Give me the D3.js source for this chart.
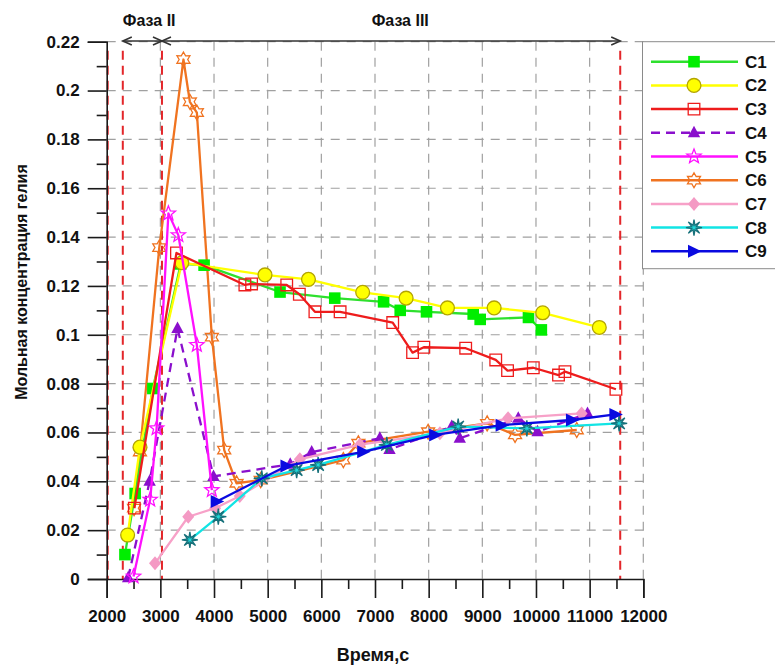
<!DOCTYPE html>
<html>
<head>
<meta charset="utf-8">
<script src="https://cdn.jsdelivr.net/npm/d3@7"></script>
<style>
  html, body { margin: 0; padding: 0; background: #fff; }
  svg { display: block; font-family: "Liberation Sans", Arial, sans-serif; }
</style>
</head>
<body>
<svg id="chart" width="775" height="666"></svg>
<script>
// Axis ticks
const timeTicks = [2000, 3000, 4000, 5000, 6000, 7000, 8000, 9000, 10000, 11000, 12000];
const concTicks = [0, 0.02, 0.04, 0.06, 0.08, 0.1, 0.12, 0.14, 0.16, 0.18, 0.2, 0.22];

// Phase boundaries (time, s) and labels
const phaseBounds = [2000, 2300, 3030, 11570];
const phaseLabels = ["Фаза II", "Фаза III"];

// Series: [time, s ; molar helium concentration]
const seriesNames = ["C1", "C2", "C3", "C4", "C5", "C6", "C7", "C8", "C9"];
const c1 = [[2340,0.010],[2530,0.035],[2860,0.078],[3380,0.129],[3815,0.1285],[5230,0.1175],[6250,0.115],
            [7160,0.1135],[7470,0.110],[7960,0.1094],[8830,0.1085],[8960,0.1063],[9860,0.1071],[10100,0.102]];
const c2 = [[2390,0.018],[2620,0.054],[3400,0.1295],[4950,0.1245],[5760,0.1227],[6770,0.1174],[7580,0.115],
            [8350,0.111],[9220,0.111],[10125,0.109],[11180,0.103]];
const c3 = [[2515,0.029],[3300,0.1335],[4575,0.1204],[4700,0.1208],[5355,0.1204],[5590,0.1166],[5880,0.1094],
            [6350,0.1094],[7330,0.105],[7700,0.0927],[7910,0.0949],[8690,0.0945],[9250,0.0897],[9470,0.0853],
            [9950,0.0865],[10420,0.0835],[10540,0.0849],[11490,0.0777]];
const c4 = [[2400,0.0005],[2800,0.040],[3320,0.1026],[3990,0.042],[5420,0.047],[5820,0.052],[7090,0.0576],
            [7270,0.053],[8430,0.0624],[8580,0.0576],[9670,0.0658],[10030,0.0603],[10960,0.0678]];
const c5 = [[2500,0.001],[2810,0.0325],[2930,0.0617],[3150,0.1497],[3335,0.1408],[3680,0.0958],[3960,0.0364]];
const c6 = [[2510,0.029],[2620,0.052],[2980,0.1357],[3430,0.2127],[3550,0.1954],[3680,0.191],[3960,0.099],
            [4190,0.0528],[4420,0.0392],[4870,0.0405],[6410,0.0487],[6690,0.0556],[7990,0.0603],[9090,0.0637],
            [9610,0.059],[10760,0.061]];
const c7 = [[2900,0.0064],[3520,0.0255],[4020,0.029],[4480,0.034],[5600,0.049],[6720,0.055],[8210,0.0597],
            [9480,0.0658],[10850,0.0678]];
const c8 = [[3550,0.016],[4080,0.0255],[4890,0.0412],[5540,0.0446],[5940,0.0467],[7220,0.0549],[8550,0.0624],
            [9830,0.0617],[11550,0.0637]];
const c9 = [[4050,0.0317],[5350,0.0463],[6780,0.0521],[8120,0.059],[9360,0.063],[10670,0.0651],[11480,0.0674]];
const seriesData = [c1, c2, c3, c4, c5, c6, c7, c8, c9];

// Styles per series
const styles = [
  { line: "#2ee02e", marker: "square",   fill: "#00ee00", stroke: "none" },
  { line: "#ffff00", marker: "circle",   fill: "#ffff00", stroke: "#b3a400" },
  { line: "#ee1c1c", marker: "square",   fill: "none",    stroke: "#ee1c1c" },
  { line: "#8a0fcc", marker: "triangle", fill: "#8a0fcc", stroke: "none", dash: "9,6" },
  { line: "#ff10ff", marker: "star5",    fill: "none",    stroke: "#ff10ff" },
  { line: "#f07320", marker: "star6",    fill: "none",    stroke: "#f07320" },
  { line: "#f7a1c8", marker: "diamond",  fill: "#f49ac4", stroke: "none" },
  { line: "#12e4e4", marker: "burst",    fill: "#20d8d8", stroke: "#17707a" },
  { line: "#0a0ae0", marker: "tri-right",fill: "#0a0ae0", stroke: "none" }
];

function starPath(points, R, r, rot) {
  const pts = [];
  for (let i = 0; i < points * 2; i++) {
    const a = rot + i * Math.PI / points;
    const rad = i % 2 === 0 ? R : r;
    pts.push([rad * Math.sin(a), -rad * Math.cos(a)]);
  }
  return "M" + pts.map(p => p[0].toFixed(2) + "," + p[1].toFixed(2)).join("L") + "Z";
}

function markerPath(kind) {
  switch (kind) {
    case "square": return "M-5.8,-5.8H5.8V5.8H-5.8Z";
    case "circle": return d3.symbol(d3.symbolCircle, 150)();
    case "triangle": return "M0,-7L6.2,4.5L-6.2,4.5Z";
    case "star5": return starPath(5, 7.5, 3.2, 0);
    case "star6": return starPath(6, 7.5, 4.3, 0);
    case "diamond": return "M0,-7L6,0L0,7L-6,0Z";
    case "burst": return starPath(8, 8, 2.4, 0);
    case "tri-right": return "M-6,-6.5L7.5,0L-6,6.5Z";
  }
}

const svg = d3.select("#chart");
const x = d3.scaleLinear().domain([2000, 12000]).range([106.7, 643.3]);
const y = d3.scaleLinear().domain([0, 0.22]).range([579, 41.7]);
const [x0, x1] = x.range();
const [y0, y1] = y.range();

// Grid
const grid = svg.append("g").attr("stroke", "#a0a0a0").attr("stroke-width", 1.2).attr("stroke-dasharray", "9,7");
grid.selectAll(".gx").data(timeTicks.filter(t => t > 2000)).join("line")
  .attr("x1", d => x(d)).attr("x2", d => x(d)).attr("y1", y1).attr("y2", y0);
grid.selectAll(".gy").data(concTicks.filter(t => t > 0)).join("line")
  .attr("x1", x0).attr("x2", x1).attr("y1", d => y(d)).attr("y2", d => y(d));

// Phase boundaries
svg.append("g").attr("stroke", "#e3262a").attr("stroke-width", 2).attr("stroke-dasharray", "9,6")
  .selectAll("line").data(phaseBounds).join("line")
  .attr("x1", d => x(d) + (d === 2000 ? 1 : 0)).attr("x2", d => x(d) + (d === 2000 ? 1 : 0))
  .attr("y1", y1 + 9).attr("y2", y0);

// Axes
const fmtConc = d => d === 0 ? "0" : String(+d.toFixed(2));
const minorT = d3.range(2500, 12000, 1000);
const minorC = d3.range(1, 22, 2).map(i => +(i * 0.01).toFixed(2));

svg.append("g").attr("transform", `translate(0,${y0})`)
  .call(d3.axisBottom(x).tickValues(timeTicks).tickSize(19).tickPadding(12).tickFormat(d3.format("d")));
svg.append("g").attr("transform", `translate(0,${y0})`)
  .call(d3.axisBottom(x).tickValues(minorT).tickSize(10).tickFormat(""))
  .select(".domain").remove();
svg.append("g").attr("transform", `translate(${x0},0)`)
  .call(d3.axisLeft(y).tickValues(concTicks).tickSize(19).tickPadding(8).tickFormat(fmtConc));
svg.append("g").attr("transform", `translate(${x0},0)`)
  .call(d3.axisLeft(y).tickValues(minorC).tickSize(10).tickFormat(""))
  .select(".domain").remove();
svg.selectAll(".domain, .tick line").attr("stroke", "#1a1a1a").attr("stroke-width", 1.6);
svg.selectAll(".tick text").attr("font-size", 17).attr("font-weight", "bold").attr("fill", "#111")
  .attr("font-family", "'Liberation Sans', Arial, sans-serif");

// Axis titles
svg.append("text").attr("x", 373).attr("y", 661).attr("text-anchor", "middle")
  .attr("font-size", 18).attr("font-weight", "bold").attr("fill", "#111").text("Время,с");
svg.append("text").attr("transform", "translate(27,282) rotate(-90)").attr("text-anchor", "middle")
  .attr("font-size", 16).attr("font-weight", "bold").attr("fill", "#111").text("Мольная концентрация гелия");

// Phase arrows
const ay = 41;
const arrows = svg.append("g").attr("stroke", "#333").attr("stroke-width", 1.6).attr("fill", "none");
arrows.append("line").attr("x1", x(phaseBounds[1])).attr("x2", x(phaseBounds[3])).attr("y1", ay).attr("y2", ay);
function chevron(px, dir) {
  arrows.append("path").attr("d", `M${px - dir * 9},${ay - 4}L${px},${ay}L${px - dir * 9},${ay + 4}`);
}
chevron(x(phaseBounds[1]), -1);
chevron(x(phaseBounds[2]), 1);
chevron(x(phaseBounds[2]), -1);
chevron(x(phaseBounds[3]), 1);
svg.append("text").attr("x", x(phaseBounds[1])).attr("y", 26).attr("font-size", 16).attr("font-weight", "bold")
  .attr("fill", "#111").text(phaseLabels[0]);
svg.append("text").attr("x", x(7470)).attr("y", 26).attr("text-anchor", "middle").attr("font-size", 16)
  .attr("font-weight", "bold").attr("fill", "#111").text(phaseLabels[1]);

// Series
const line = d3.line().x(d => x(d[0])).y(d => y(d[1]));
const order = [5, 0, 1, 2, 3, 4, 6, 7, 8];
order.forEach(i => {
  const s = styles[i];
  const g = svg.append("g");
  g.append("path").datum(seriesData[i]).attr("d", line).attr("fill", "none")
    .attr("stroke", s.line).attr("stroke-width", 2.3).attr("stroke-dasharray", s.dash || null)
    .attr("stroke-linejoin", "round");
  g.selectAll("path.m").data(seriesData[i]).join("path").attr("class", "m")
    .attr("d", markerPath(s.marker))
    .attr("transform", d => `translate(${x(d[0])},${y(d[1])})`)
    .attr("fill", s.fill).attr("stroke", s.stroke).attr("stroke-width", s.stroke === "none" ? 0 : 1.3);
});

// Legend
const lg = svg.append("g");
lg.append("rect").attr("x", 642.5).attr("y", 41.7).attr("width", 140).attr("height", 227)
  .attr("fill", "#fff").attr("stroke", "#8a8a8a").attr("stroke-width", 1);
seriesNames.forEach((name, i) => {
  const s = styles[i];
  const ry = 61.7 + i * 23.7;
  lg.append("line").attr("x1", 651).attr("x2", 738).attr("y1", ry).attr("y2", ry)
    .attr("stroke", s.line).attr("stroke-width", 2.5).attr("stroke-dasharray", s.dash || null);
  lg.append("path").attr("d", markerPath(s.marker)).attr("transform", `translate(694,${ry})`)
    .attr("fill", s.fill).attr("stroke", s.stroke).attr("stroke-width", s.stroke === "none" ? 0 : 1.3);
  lg.append("text").attr("x", 745).attr("y", ry + 6).attr("font-size", 17).attr("font-weight", "bold")
    .attr("fill", "#111").text(name);
});
</script>
</body>
</html>
